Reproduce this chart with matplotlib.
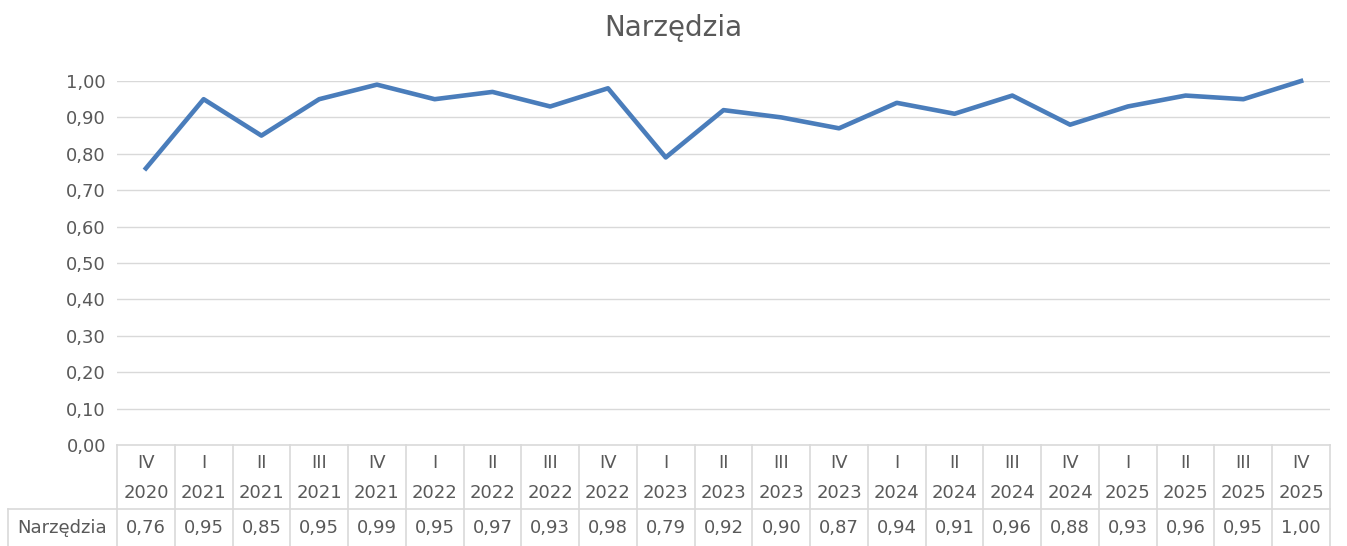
import matplotlib.pyplot as plt
from matplotlib.lines import Line2D

quarters = ["IV", "I", "II", "III", "IV", "I", "II", "III", "IV", "I", "II", "III", "IV",
            "I", "II", "III", "IV", "I", "II", "III", "IV"]
years = ["2020", "2021", "2021", "2021", "2021", "2022", "2022", "2022", "2022", "2023", "2023",
         "2023", "2023", "2024", "2024", "2024", "2024", "2025", "2025", "2025", "2025"]
values = [0.76, 0.95, 0.85, 0.95, 0.99, 0.95, 0.97, 0.93, 0.98, 0.79, 0.92,
          0.90, 0.87, 0.94, 0.91, 0.96, 0.88, 0.93, 0.96, 0.95, 1.00]
series_name = "Narzędzia"

W, H = 1347, 546
txt = "#595959"
grid = "#d9d9d9"

fig = plt.figure(figsize=(W / 100, H / 100), dpi=100)
x0, x1, ytop, ybot = 117, 1330, 81, 445
ax = fig.add_axes([x0 / W, 1 - ybot / H, (x1 - x0) / W, (ybot - ytop) / H])

n = len(values)
xs = list(range(n))
ax.plot(xs, values, color="#4a7dbb", lw=3.3, solid_joinstyle="round", clip_on=False, zorder=3)
ax.set_xlim(-0.5, n - 0.5)
ax.set_ylim(0, 1)
ticks = [i / 10 for i in range(11)]
ax.set_yticks(ticks)
ax.set_yticklabels([f"{t:.2f}".replace(".", ",") for t in ticks], fontsize=13, color=txt)
ax.set_xticks([])
ax.tick_params(axis="y", length=0, pad=8)
for t in ticks[1:]:
    ax.axhline(t, color=grid, lw=1, zorder=1)
for s in ax.spines.values():
    s.set_visible(False)

fig.text(0.5, 1 - 28 / H, "Narzędzia", ha="center", va="center", fontsize=20, color=txt)


# data table below the plot
def fy(p):
    return 1 - p / H


def fx(p):
    return p / W


colw = (x1 - x0) / n
mid = 509
fig.add_artist(Line2D([fx(x0), fx(x1)], [fy(ybot), fy(ybot)], color=grid, lw=1.2))
fig.add_artist(Line2D([fx(8), fx(x1)], [fy(mid), fy(mid)], color=grid, lw=1.2))
fig.add_artist(Line2D([fx(8), fx(8)], [fy(mid), fy(H)], color=grid, lw=1.2))
for i in range(n + 1):
    xp = x0 + i * colw
    fig.add_artist(Line2D([fx(xp), fx(xp)], [fy(ybot), fy(H)], color=grid, lw=1.2))

for i in range(n):
    xc = x0 + (i + 0.5) * colw
    fig.text(fx(xc), fy(463), quarters[i], ha="center", va="center", fontsize=13, color=txt)
    fig.text(fx(xc), fy(493), years[i], ha="center", va="center", fontsize=13, color=txt)
    fig.text(fx(xc), fy(528), f"{values[i]:.2f}".replace(".", ","), ha="center", va="center",
             fontsize=13, color=txt)
fig.text(fx(62), fy(528), series_name, ha="center", va="center", fontsize=13, color=txt)

fig.savefig("out.png", dpi=100)
